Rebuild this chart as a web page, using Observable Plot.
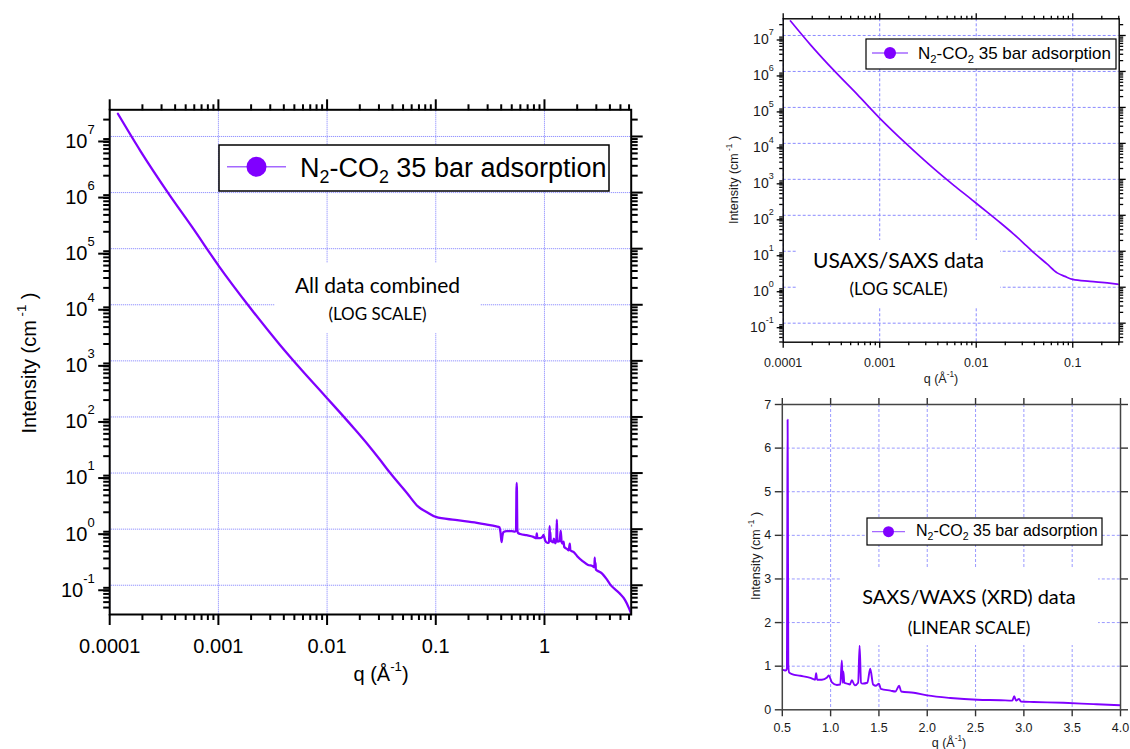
<!DOCTYPE html>
<html>
<head>
<meta charset="utf-8">
<title>N2-CO2 35 bar adsorption scattering</title>
<script src="https://cdn.jsdelivr.net/npm/d3@7"></script>
<script src="https://cdn.jsdelivr.net/npm/@observablehq/plot@0.6"></script>
<style>
  html, body { margin: 0; padding: 0; background: #fff; overflow: hidden; }
  #page { position: relative; width: 1130px; height: 749px; background: #fff; }
  #page > svg { position: absolute; }
</style>
</head>
<body>
<div id="page"></div>
<script>
// ---- measured scattering curve: q (Å^-1) and intensity (cm^-1) ----
const qValues = [
  1.19e-4, 1.92e-4, 3.43e-4, 5.85e-4, 1.01e-3, 1.88e-3, 3.64e-3, 5.86e-3, 9.1e-3,
  0.0100, 0.0133, 0.0179, 0.0241, 0.0303, 0.0381, 0.0545, 0.069, 0.083, 0.100,
  0.151, 0.239, 0.288, 0.36, 0.385, 0.395, 0.403, 0.41, 0.42, 0.45, 0.50,
  0.535, 0.548, 0.552, 0.555, 0.558, 0.562, 0.57, 0.60, 0.686, 0.79,
  0.84, 0.85, 0.86, 0.91, 0.963, 0.98, 1.014, 1.065, 1.10, 1.116,
  1.125, 1.132, 1.142, 1.17, 1.20, 1.22, 1.25, 1.285, 1.30, 1.315,
  1.33, 1.38, 1.41, 1.44, 1.47, 1.50, 1.52, 1.62, 1.67, 1.71,
  1.73, 1.86, 2.0, 2.24, 2.52, 2.76, 2.88, 2.90, 2.92, 2.95,
  2.97, 3.1, 3.41, 3.72, 4.0, 4.9, 5.5, 6.03, 6.28
];
const intensityValues = [
  2.54e7, 5.5e6, 1.0e6, 2.3e5, 4.9e4, 9.8e3, 1.98e3, 680, 265,
  216, 117, 61, 31.0, 17.8, 10.0, 4.37, 2.51, 2.0, 1.65,
  1.46, 1.30, 1.22, 1.12, 1.08, 0.85, 0.59, 0.75, 0.89, 0.92, 0.92,
  0.90, 0.95, 4.5, 6.65, 4.8, 1.05, 0.86, 0.82, 0.78, 0.73,
  0.69, 0.84, 0.69, 0.69, 0.74, 0.79, 0.63, 0.57, 0.58, 1.13,
  0.62, 0.88, 0.62, 0.60, 0.58, 0.68, 0.56, 0.62, 1.47, 0.62,
  0.60, 0.62, 0.94, 0.58, 0.55, 0.60, 0.48, 0.44, 0.42, 0.55,
  0.42, 0.39, 0.33, 0.27, 0.23, 0.22, 0.21, 0.31, 0.21, 0.25,
  0.19, 0.18, 0.16, 0.13, 0.105, 0.072, 0.055, 0.038, 0.031
];
const seriesName = ["N", "2", "-CO", "2", " 35 bar adsorption"];

// ---- axis ticks and their labels ----
const combinedXTicks = [0.0001, 0.001, 0.01, 0.1, 1];
const combinedXLabels = ["0.0001", "0.001", "0.01", "0.1", "1"];
const usaxsXTicks = [0.0001, 0.001, 0.01, 0.1];
const usaxsXLabels = ["0.0001", "0.001", "0.01", "0.1"];
const logYTicks = [1e-1, 1e0, 1e1, 1e2, 1e3, 1e4, 1e5, 1e6, 1e7];
const logYLabels = ["10^-1", "10^0", "10^1", "10^2", "10^3", "10^4", "10^5", "10^6", "10^7"];
const waxsXTicks = [0.5, 1.0, 1.5, 2.0, 2.5, 3.0, 3.5, 4.0];
const waxsXLabels = ["0.5", "1.0", "1.5", "2.0", "2.5", "3.0", "3.5", "4.0"];
const waxsYTicks = [0, 1, 2, 3, 4, 5, 6, 7];
const waxsYLabels = ["0", "1", "2", "3", "4", "5", "6", "7"];

const scans = qValues.map((q, i) => ({q, I: intensityValues[i]}));

const PURPLE = "#8000ff";
const LEGEND_LINE = "#a468ff";
const ARIAL = "'Liberation Sans', Arial, Helvetica, sans-serif";
const CALIBRI = "Lato, 'Open Sans', sans-serif";
const page = document.getElementById("page");

const labelFor = (ticks, labels) => d => {
  const i = ticks.findIndex(t => Math.abs(t - d) <= Math.abs(d) * 1e-9);
  return i < 0 ? "" : labels[i];
};
const blank = () => "";

// minor ticks at 2..9 × each decade inside [lo, hi]
function logMinor(lo, hi) {
  const out = [];
  for (let e = Math.floor(Math.log10(lo)); e <= Math.ceil(Math.log10(hi)); e++) {
    for (let k = 2; k <= 9; k++) {
      const v = k * Math.pow(10, e);
      if (v >= lo && v <= hi) out.push(v);
    }
  }
  return out;
}

// four-sided box of outward ticks; labels only on bottom and left
function boxAxes(o) {
  const base = {label: null, stroke: o.axisColor, strokeWidth: o.tickWidth, fill: o.textColor};
  const marks = [
    Plot.axisX(o.xTicks, {...base, anchor: "bottom", tickSize: o.major, tickPadding: o.xPad,
      tickFormat: labelFor(o.xTicks, o.xLabels), fontSize: o.xFont}),
    Plot.axisX(o.xTicks, {...base, anchor: "top", tickSize: o.major, tickFormat: blank}),
    Plot.axisY(o.yTicks, {...base, anchor: "left", tickSize: o.major, tickPadding: o.yPad,
      tickFormat: labelFor(o.yTicks, o.yLabels), fontSize: o.yFont, dy: o.yDy || 0}),
    Plot.axisY(o.yTicks, {...base, anchor: "right", tickSize: o.major, tickFormat: blank})
  ];
  if (o.xMinor) {
    marks.push(Plot.axisX(o.xMinor, {...base, anchor: "bottom", tickSize: o.minor, tickFormat: blank}));
    marks.push(Plot.axisX(o.xMinor, {...base, anchor: "top", tickSize: o.minor, tickFormat: blank}));
  }
  if (o.yMinor) {
    marks.push(Plot.axisY(o.yMinor, {...base, anchor: "left", tickSize: o.minor, tickFormat: blank}));
    marks.push(Plot.axisY(o.yMinor, {...base, anchor: "right", tickSize: o.minor, tickFormat: blank}));
  }
  return marks;
}

// turn "10^n" tick labels into 10 with a raised exponent
function raiseExponents(svg, supSize, rise) {
  svg.querySelectorAll("text").forEach(t => {
    const m = /^10\^(-?\d+)$/.exec(t.textContent);
    if (!m) return;
    t.textContent = "10";
    const s = document.createElementNS("http://www.w3.org/2000/svg", "tspan");
    s.setAttribute("dy", -rise);
    s.setAttribute("font-size", supSize);
    s.textContent = m[1];
    t.appendChild(s);
  });
}

function place(svg, left, top) {
  svg.style.left = left + "px";
  svg.style.top = top + "px";
  page.appendChild(svg);
}

// ---- left: all data combined (log-log) ----
{
  const xDom = [1e-4, 6.28], yDom = [0.0301, 2.99e7];
  const svg = Plot.plot({
    width: 680, height: 700,
    marginLeft: 109.2, marginRight: 49.3, marginTop: 109.3, marginBottom: 86,
    x: {type: "log", domain: xDom, label: null},
    y: {type: "log", domain: yDom, label: null},
    style: {fontFamily: ARIAL, color: "#000", background: "transparent"},
    marks: [
      Plot.gridX(combinedXTicks, {stroke: "#7c7cff", strokeOpacity: 1, strokeWidth: 1, strokeDasharray: "1,1"}),
      Plot.gridY(logYTicks, {stroke: "#7c7cff", strokeOpacity: 1, strokeWidth: 1, strokeDasharray: "1,1"}),
      Plot.line(scans, {x: "q", y: "I", stroke: PURPLE, strokeWidth: 2.3, curve: "monotone-x", clip: true}),
      ...boxAxes({
        xTicks: combinedXTicks, xLabels: combinedXLabels, xMinor: logMinor(...xDom),
        yTicks: logYTicks, yLabels: logYLabels, yMinor: logMinor(...yDom),
        major: 11, minor: 6, tickWidth: 2, axisColor: "#000", textColor: "#000",
        xFont: 20, yFont: 20, xPad: 13, yPad: 4, yDy: 5
      }),
      Plot.frame({stroke: "#000", strokeWidth: 2})
    ]
  });
  raiseExponents(svg, 13, 14);
  place(svg, 0, 0);
}

// ---- top right: USAXS/SAXS (log-log) ----
{
  const xDom = [1e-4, 0.303], yDom = [0.0296, 2.91e7];
  const svg = Plot.plot({
    width: 440, height: 392,
    marginLeft: 92.7, marginRight: 11.3, marginTop: 18.3, marginBottom: 50.3,
    x: {type: "log", domain: xDom, label: null},
    y: {type: "log", domain: yDom, label: null},
    style: {fontFamily: ARIAL, color: "#000", background: "transparent"},
    marks: [
      Plot.gridX(usaxsXTicks, {stroke: "#8a8aff", strokeOpacity: 1, strokeWidth: 1, strokeDasharray: "3,2"}),
      Plot.gridY(logYTicks, {stroke: "#8a8aff", strokeOpacity: 1, strokeWidth: 1, strokeDasharray: "3,2"}),
      Plot.line(scans, {x: "q", y: "I", stroke: PURPLE, strokeWidth: 1.7, curve: "monotone-x", clip: true}),
      ...boxAxes({
        xTicks: usaxsXTicks, xLabels: usaxsXLabels, xMinor: logMinor(...xDom),
        yTicks: logYTicks, yLabels: logYLabels, yMinor: logMinor(...yDom),
        major: 6, minor: 3.5, tickWidth: 1.3, axisColor: "#000", textColor: "#1a1a1a",
        xFont: 12.5, yFont: 14, xPad: 9.5, yPad: 3.5, yDy: 4.5
      }),
      Plot.frame({stroke: "#000", strokeWidth: 1.4})
    ]
  });
  raiseExponents(svg, 9, 9);
  place(svg, 690, 0);
}

// ---- bottom right: SAXS/WAXS (linear) ----
{
  const svg = Plot.plot({
    width: 440, height: 357,
    marginLeft: 91.8, marginRight: 10, marginTop: 12, marginBottom: 39.7,
    x: {domain: [0.5, 4.0], label: null},
    y: {domain: [0, 7], label: null},
    style: {fontFamily: ARIAL, color: "#000", background: "transparent"},
    marks: [
      Plot.gridX(waxsXTicks.slice(1, -1), {stroke: "#9a9aff", strokeOpacity: 1, strokeWidth: 1, strokeDasharray: "3,2"}),
      Plot.gridY(waxsYTicks.slice(1, -1), {stroke: "#9a9aff", strokeOpacity: 1, strokeWidth: 1, strokeDasharray: "3,2"}),
      Plot.line(scans, {x: "q", y: "I", stroke: PURPLE, strokeWidth: 1.9, curve: "monotone-x", clip: true}),
      ...boxAxes({
        xTicks: waxsXTicks, xLabels: waxsXLabels,
        yTicks: waxsYTicks, yLabels: waxsYLabels,
        major: 7, tickWidth: 1.4, axisColor: "#333", textColor: "#1a1a1a",
        xFont: 12.5, yFont: 12.5, xPad: 6.5, yPad: 4
      }),
      Plot.frame({stroke: "#444", strokeWidth: 1.5})
    ]
  });
  place(svg, 690, 392);
}

// ---- titles, annotations and legends ----
const overlay = d3.create("svg")
  .attr("width", 1130).attr("height", 749)
  .style("left", "0px").style("top", "0px")
  .style("pointer-events", "none");

function rich(parts, {x, y, size, anchor = "start", family = ARIAL, rotate = 0, fill = "#000"}) {
  const t = overlay.append("text")
    .attr("font-size", size).attr("font-family", family)
    .attr("text-anchor", anchor).attr("fill", fill)
    .attr("transform", `translate(${x},${y})` + (rotate ? ` rotate(${rotate})` : ""));
  let shift = 0;
  parts.forEach(([str, kind]) => {
    const target = kind === "sub" ? 0.22 * size : kind === "sup" ? -0.5 * size : 0;
    const s = t.append("tspan").attr("dy", target - shift).text(str);
    if (kind) s.attr("font-size", size * 0.66);
    shift = target;
  });
  return t;
}

const intensityTitle = [["Intensity (cm"], [" -1", "sup"], [" )"]];
const qTitle = [["q (Å"], ["-1", "sup"], [")"]];

// axis titles
rich(intensityTitle, {x: 36, y: 363, size: 20, anchor: "middle", rotate: -90});
rich(qTitle, {x: 381, y: 681, size: 20, anchor: "middle"});
rich(intensityTitle, {x: 738, y: 180, size: 12.5, anchor: "middle", rotate: -90, fill: "#1a1a1a"});
rich(qTitle, {x: 941, y: 383, size: 12.5, anchor: "middle", fill: "#1a1a1a"});
rich(intensityTitle, {x: 760, y: 556, size: 12.5, anchor: "middle", rotate: -90, fill: "#1a1a1a"});
rich(qTitle, {x: 949, y: 747, size: 12.5, anchor: "middle", fill: "#1a1a1a"});

// panel annotations on white boxes
function note(box, line1, line2) {
  overlay.append("rect").attr("x", box.x).attr("y", box.y).attr("width", box.w).attr("height", box.h).attr("fill", "#fff");
  const cx = box.x + box.w / 2;
  rich([[line1.text]], {x: cx, y: line1.y, size: line1.size, anchor: "middle", family: CALIBRI});
  rich([[line2.text]], {x: cx, y: line2.y, size: line2.size, anchor: "middle", family: CALIBRI});
}
note({x: 275, y: 263, w: 205, h: 70}, {text: "All data combined", y: 293, size: 21}, {text: "(LOG SCALE)", y: 320, size: 17});
note({x: 797, y: 240, w: 203, h: 68}, {text: "USAXS/SAXS data", y: 268, size: 21}, {text: "(LOG SCALE)", y: 295, size: 17});
note({x: 840, y: 567, w: 258, h: 78}, {text: "SAXS/WAXS (XRD) data", y: 604, size: 20}, {text: "(LINEAR SCALE)", y: 634, size: 17});

// legends
function legend(b) {
  overlay.append("rect").attr("x", b.x).attr("y", b.y).attr("width", b.w).attr("height", b.h)
    .attr("fill", "#fff").attr("stroke", "#000").attr("stroke-width", b.sw);
  overlay.append("line").attr("x1", b.x + b.l1).attr("x2", b.x + b.l2)
    .attr("y1", b.y + b.ly).attr("y2", b.y + b.ly)
    .attr("stroke", LEGEND_LINE).attr("stroke-width", b.lw);
  overlay.append("circle").attr("cx", b.x + (b.l1 + b.l2) / 2).attr("cy", b.y + b.ly).attr("r", b.r).attr("fill", PURPLE);
  rich(seriesName.map((s, i) => i % 2 ? [s, "sub"] : [s]), {x: b.x + b.tx, y: b.y + b.ty, size: b.size});
}
legend({x: 219, y: 145, w: 390, h: 46, sw: 1.5, l1: 8, l2: 67, ly: 21.7, lw: 1.6, r: 10, tx: 81, ty: 32, size: 27});
legend({x: 866, y: 39, w: 250, h: 30, sw: 1.2, l1: 6, l2: 42, ly: 14, lw: 1.3, r: 6, tx: 52, ty: 20.3, size: 17});
legend({x: 867, y: 518, w: 235, h: 27, sw: 1.2, l1: 5, l2: 38, ly: 13.7, lw: 1.3, r: 5.5, tx: 49, ty: 18.2, size: 16});

page.appendChild(overlay.node());
</script>
</body>
</html>
